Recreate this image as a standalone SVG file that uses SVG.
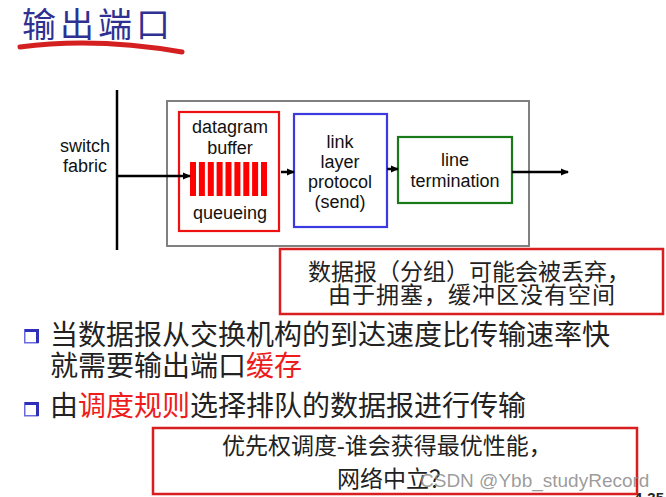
<svg xmlns="http://www.w3.org/2000/svg" width="666" height="497" viewBox="0 0 666 497">
<style>
.lbl{font-family:"Liberation Sans",Arial,sans-serif;font-size:18px;fill:#111;text-anchor:middle}
.cn{font-family:"Liberation Serif","Noto Sans CJK SC",serif;font-size:23px;fill:#222}
.bt{font-family:"Liberation Sans","Noto Sans CJK SC",sans-serif;font-size:28px;fill:#222}
.red{fill:#ee1c1c}
.ln{stroke:#000;stroke-width:2.5;fill:none}
.note{fill:#fff;stroke:#d81e1e;stroke-width:2.5}
</style>
<defs>
<marker id="ah" markerWidth="8" markerHeight="8" refX="7" refY="4" orient="auto" markerUnits="userSpaceOnUse">
<path d="M0,0.5 L8,4 L0,7.5 Z" fill="#000"/>
</marker>
<g id="bul">
<rect x="0.75" y="0.75" width="13" height="13" fill="#fff" stroke="#6a6ae0" stroke-width="1.5"/>
<path d="M1,1.5 H13.5 V14" fill="none" stroke="#2f2fb8" stroke-width="3"/>
</g>
</defs>
<rect width="666" height="497" fill="#fff"/>
<g id="title">
<text x="22" y="37" style="font-family:'Noto Sans CJK SC',sans-serif;font-size:34px;letter-spacing:4px;fill:#2e3192">输出端口</text>
<path d="M20,47 Q95,37 182,52" fill="none" stroke="#d42020" stroke-width="5" stroke-linecap="round"/>
</g>
<g id="outer"><rect x="167" y="101" width="362" height="145" fill="none" stroke="#808080" stroke-width="2"/></g>
<g id="switch">
<line x1="117" y1="90" x2="117" y2="250" class="ln"/>
<text class="lbl" x="85" y="152">switch</text>
<text class="lbl" x="85" y="172">fabric</text>
</g>
<g id="buffer">
<rect x="179" y="112" width="100" height="119" fill="#fff" stroke="#ee1111" stroke-width="2.2"/>
<text class="lbl" x="230" y="133">datagram</text>
<text class="lbl" x="230" y="154">buffer</text>
<g fill="#ff0000">
<rect x="190" y="162" width="6" height="34"/><rect x="198.9" y="162" width="6" height="34"/><rect x="207.8" y="162" width="6" height="34"/><rect x="216.6" y="162" width="6" height="34"/><rect x="225.5" y="162" width="6" height="34"/><rect x="234.4" y="162" width="6" height="34"/><rect x="243.3" y="162" width="6" height="34"/><rect x="252.1" y="162" width="6" height="34"/><rect x="261" y="162" width="6" height="34"/>
</g>
<text class="lbl" x="230" y="219">queueing</text>
</g>
<g id="link">
<rect x="294" y="114" width="93" height="113" fill="#fff" stroke="#3a3ae0" stroke-width="2.2"/>
<text class="lbl" x="340" y="148">link</text>
<text class="lbl" x="340" y="168">layer</text>
<text class="lbl" x="340" y="188">protocol</text>
<text class="lbl" x="340" y="208">(send)</text>
</g>
<g id="line">
<rect x="398" y="137" width="114" height="66" fill="#fff" stroke="#1a7a1a" stroke-width="2.2"/>
<text class="lbl" x="455" y="166">line</text>
<text class="lbl" x="455" y="187">termination</text>
</g>
<g id="connectors">
<line x1="117" y1="176" x2="190" y2="176" class="ln" stroke-width="2" marker-end="url(#ah)"/>
<line x1="281" y1="172" x2="294" y2="172" class="ln" stroke-width="2" marker-end="url(#ah)"/>
<line x1="387" y1="169" x2="398" y2="169" class="ln" stroke-width="2" marker-end="url(#ah)"/>
<line x1="512" y1="172" x2="568" y2="172" class="ln" stroke-width="2" marker-end="url(#ah)"/>
</g>
<g id="note1">
<rect x="280" y="249" width="383" height="65" class="note"/>
<text class="cn" x="308" y="280">数据报（分组）可能会被丢弃，</text>
<text class="cn" x="328" y="303" style="letter-spacing:1px">由于拥塞，缓冲区没有空间</text>
</g>
<g id="bullets">
<use href="#bul" x="24" y="329"/>
<use href="#bul" x="24" y="402"/>
<text class="bt" x="50" y="345">当数据报从交换机构的到达速度比传输速率快</text>
<text class="bt" x="50" y="376">就需要输出端口<tspan class="red">缓存</tspan></text>
<text class="bt" x="50" y="416">由<tspan class="red">调度规则</tspan>选择排队的数据报进行传输</text>
</g>
<g id="note2">
<rect x="153" y="428" width="484" height="66" class="note"/>
<text class="cn" x="222" y="454">优先权调度-谁会获得最优性能，</text>
<text class="cn" x="337" y="487">网络中立？</text>
</g>
<text x="420" y="487" style="font-family:'Liberation Sans',Arial,sans-serif;font-size:19px;fill:#8a8a8a;fill-opacity:0.85">CSDN @Ybb_studyRecord</text>
<text x="664" y="503" text-anchor="end" style="font-family:'Liberation Sans',Arial,sans-serif;font-size:15px;font-weight:bold;fill:#222">4-35</text>
</svg>
